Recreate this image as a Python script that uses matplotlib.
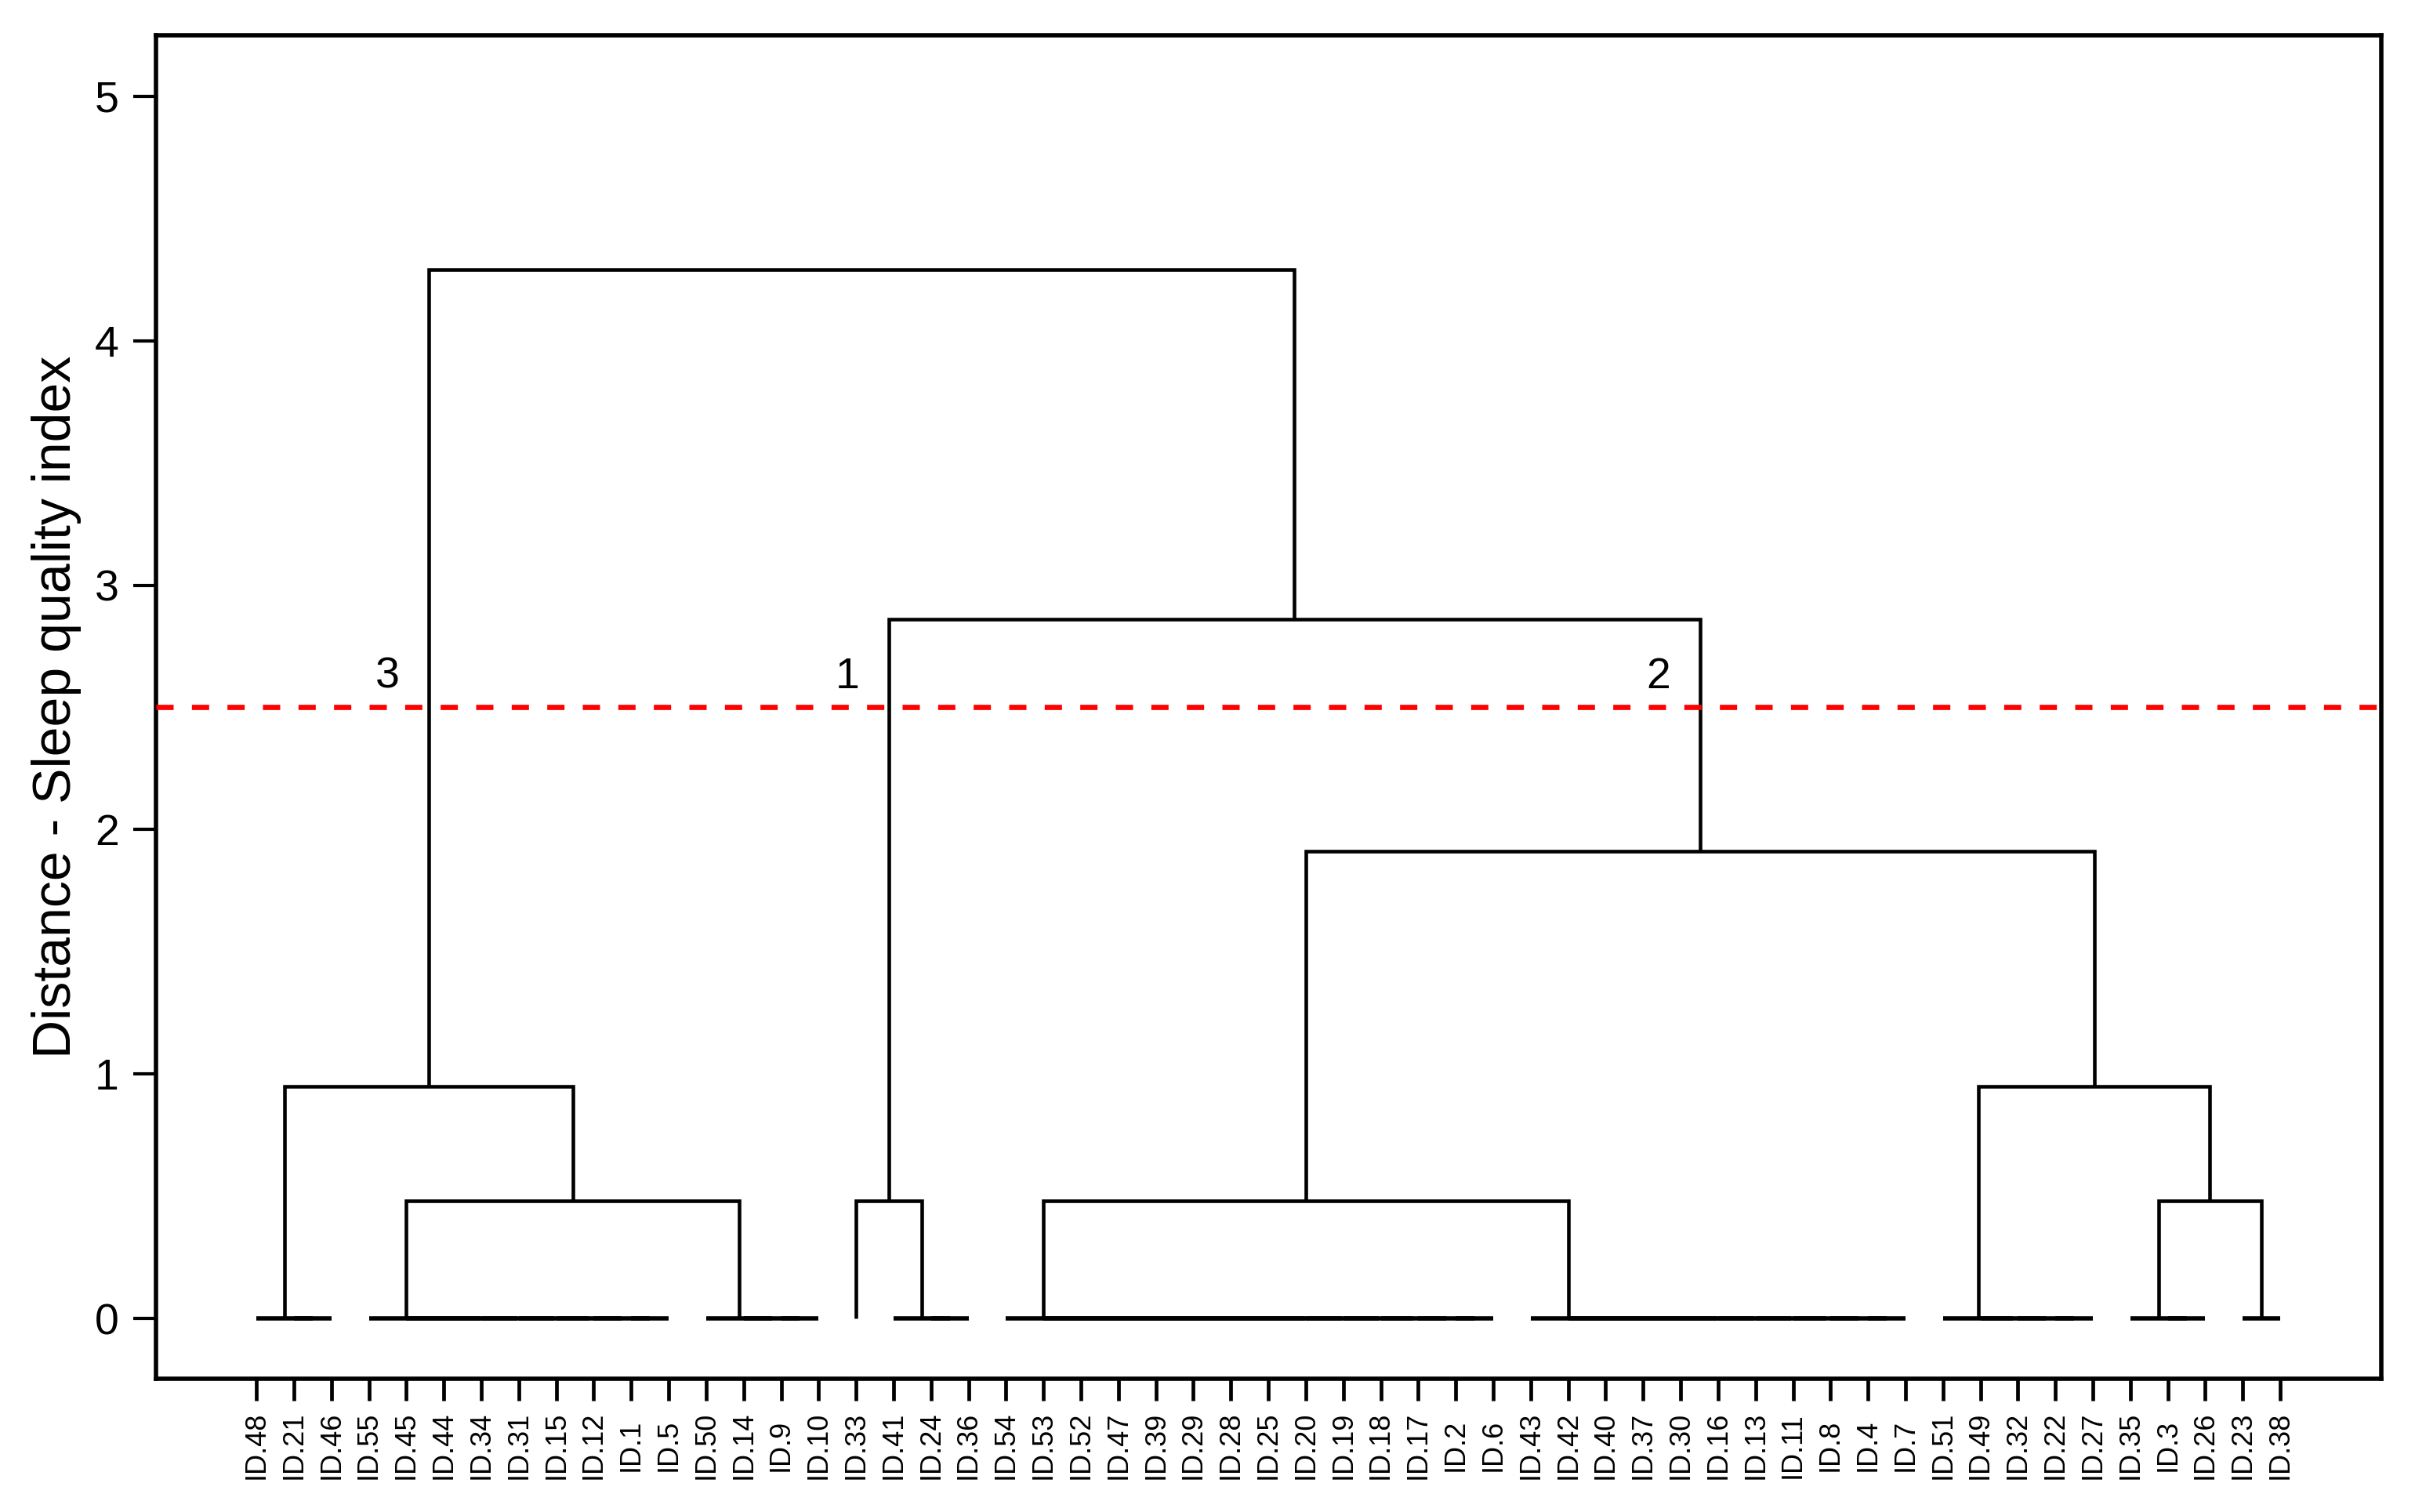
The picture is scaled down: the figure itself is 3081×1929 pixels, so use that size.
import matplotlib.pyplot as plt

plt.rcParams["font.family"] = ["Liberation Sans", "DejaVu Sans"]

# leaf order along the x axis
leaf_labels = [
    "ID.48", "ID.21", "ID.46", "ID.55", "ID.45", "ID.44", "ID.34", "ID.31", "ID.15", "ID.12",
    "ID.1", "ID.5", "ID.50", "ID.14", "ID.9", "ID.10", "ID.33", "ID.41", "ID.24", "ID.36",
    "ID.54", "ID.53", "ID.52", "ID.47", "ID.39", "ID.29", "ID.28", "ID.25", "ID.20", "ID.19",
    "ID.18", "ID.17", "ID.2", "ID.6", "ID.43", "ID.42", "ID.40", "ID.37", "ID.30", "ID.16",
    "ID.13", "ID.11", "ID.8", "ID.4", "ID.7", "ID.51", "ID.49", "ID.32", "ID.22", "ID.27",
    "ID.35", "ID.3", "ID.26", "ID.23", "ID.38",
]

# runs of leaves that are tied at distance 0 (t0, t1, ...)
tie_sizes = [3, 9, 4, 1, 3, 14, 11, 5, 3, 2]

# merges above zero (m0, m1, ...): left node, right node, height
merges = [
    ("t1", "t2", 0.48),
    ("t0", "m0", 0.95),
    ("t3", "t4", 0.48),
    ("t5", "t6", 0.48),
    ("t8", "t9", 0.48),
    ("t7", "m4", 0.95),
    ("m3", "m5", 1.91),
    ("m2", "m6", 2.86),
    ("m1", "m7", 4.29),
]

cut_height = 2.5
cluster_names = ["3", "1", "2"]
cluster_nodes = ["m1", "m2", "m6"]

fig = plt.figure(figsize=(30.81, 19.29), dpi=100)
ax = fig.add_axes([0.0646, 0.0881, 0.9215, 0.8886])


def link(xl, hl, xr, hr, h, lw=3.3):
    ax.plot([xl, xl, xr, xr], [hl, h, h, hr], color="black", lw=lw,
            solid_capstyle="butt", solid_joinstyle="miter")
    return (xl + xr) / 2


nodes = {}
start = 1
for k, size in enumerate(tie_sizes):
    pos = list(range(start, start + size))
    x = pos[-1]
    for p in reversed(pos[:-1]):  # nested ties, joined right to left
        x = link(p, 0, x, 0, 0, lw=4)
    nodes["t%d" % k] = (x, 0)
    start += size

for k, (a, b, h) in enumerate(merges):
    xa, ha = nodes[a]
    xb, hb = nodes[b]
    nodes["m%d" % k] = (link(xa, ha, xb, hb, h), h)

ax.axhline(cut_height, color="#ff0000", lw=4.8, linestyle=(0, (3.3, 3.5)), zorder=5)

for name, node in zip(cluster_names, cluster_nodes):
    ax.text(nodes[node][0] - 1.1, 2.58, name, ha="center", va="baseline", fontsize=40)

ax.set_xlim(-1.68, 57.70)
ax.set_ylim(-0.247, 5.25)

ax.set_xticks(range(1, len(leaf_labels) + 1))
ax.set_xticklabels(leaf_labels, rotation=90, va="center", ha="center", fontsize=26)
ax.set_yticks(range(6))
ax.set_yticklabels([str(v) for v in range(6)], fontsize=40)
ax.tick_params(axis="x", length=20, width=3.4, pad=41)
ax.tick_params(axis="y", length=21, width=3, pad=13)
ax.set_ylabel("Distance - Sleep quality index", fontsize=49, labelpad=12)

for s in ax.spines.values():
    s.set_linewidth(4)

fig.savefig("out.png", dpi=100)
